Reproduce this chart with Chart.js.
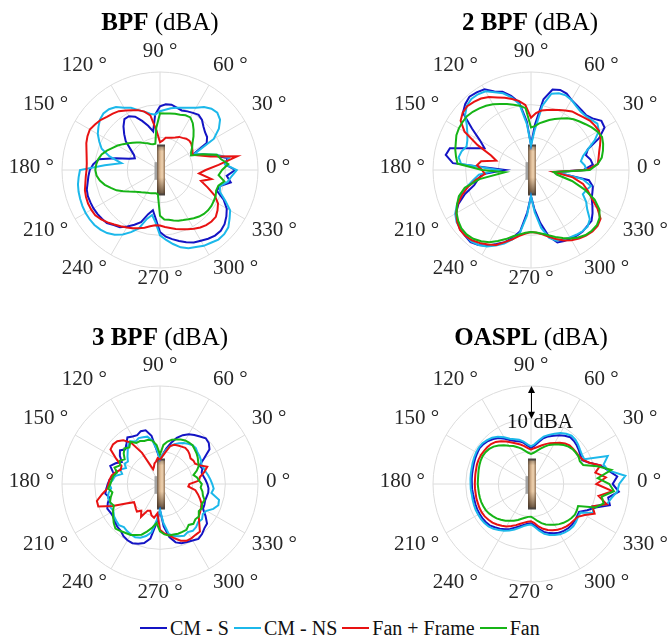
<!DOCTYPE html>
<html>
<head>
<meta charset="utf-8">
<script src="https://cdn.jsdelivr.net/npm/chart.js@4.4.1/dist/chart.umd.min.js"></script>
<style>
  html, body { margin: 0; padding: 0; background: #fff; }
  body { position: relative; width: 667px; height: 638px; overflow: hidden; font-family: "Liberation Serif", "Times New Roman", serif; }
  canvas { position: absolute; }
  .title { position: absolute; width: 334px; text-align: center; font-size: 25px; line-height: 25px; color: #000; white-space: nowrap; }
  .title b { font-weight: bold; }
  .legend { position: absolute; left: 140px; top: 618px; display: flex; align-items: center; font-size: 20px; line-height: 20px; color: #111; white-space: nowrap; }
  .legend .item { display: flex; align-items: center; margin-right: 5px; }
  .legend .swatch { display: inline-block; width: 27px; height: 0; border-top: 2px solid; margin-right: 3px; }
</style>
</head>
<body>
<script>
// ---- angular grid (degrees, counter-clockwise from +x) ----
const STEP = 5;
const ANGLES = [0,5,10,15,20,25,30,35,40,45,50,55,60,65,70,75,80,85,90,95,100,105,110,115,
  120,125,130,135,140,145,150,155,160,165,170,175,180,185,190,195,200,205,210,215,220,225,230,235,
  240,245,250,255,260,265,270,275,280,285,290,295,300,305,310,315,320,325,330,335,340,345,350,355];
const THETA_TICKS = [0,30,60,90,120,150,180,210,240,270,300,330];

// radial axis in dBA (relative), 10 dBA per ring
const RADIAL_MIN = 0;
const RADIAL_MAX = 30;
const RADIAL_STEP = 10;

const SERIES_NAMES = ['CM - S', 'CM - NS', 'Fan + Frame', 'Fan'];
const SERIES_COLORS = ['#1414c4', '#1cb8ea', '#e81212', '#16b416'];

// ---- BPF ----
const bpfCmS = [
  23, 20, 21, 17, 14, 11, 16.5, 17.6, 18, 18.8, 20, 20.6,
  20.2, 19.8, 19.4, 19.8, 20.3, 20.2, 19.5, 17, 12, 14, 16, 18,
  19, 19, 17.4, 15.5, 13.7, 11, 9.2, 8.5, 10, 14, 19, 20.5,
  21.5, 22, 22.5, 23.2, 23.5, 23.5, 23.5, 23.4, 23.2, 23, 22, 21.4,
  20, 18.5, 17, 14, 12.5, 15, 19, 20.5, 21.5, 22.5, 23.5, 24.5,
  25, 25.7, 26.2, 26.3, 25.8, 24.8, 23.6, 21.5, 18.5, 19, 22, 20.5];
const bpfCmNs = [
  23.5, 20, 21.5, 18, 14, 11.5, 19, 22, 24, 24.8, 24.5, 23.5,
  22, 21, 20.3, 19.7, 19.2, 18.5, 18, 17, 17.5, 18.5, 19.5, 21,
  22, 23.5, 24.3, 24.5, 24, 23, 22, 20.5, 19, 16, 12, 17,
  24.5, 25, 25.5, 25.8, 26, 26.2, 26.3, 26.3, 26.2, 25.8, 25.2, 24.2,
  22.8, 21, 19, 15.5, 14, 16, 20, 21.5, 23, 24.5, 25.5, 26,
  26.8, 27.2, 27.8, 27.8, 27.3, 26, 24.8, 22, 19.5, 19, 21, 22];
const bpfFanFrame = [
  14, 18, 24, 16, 13, 11, 11.5, 12, 12.5, 12.7, 12.5, 12,
  11.7, 11, 10.5, 10.2, 10, 9, 8.5, 12, 17, 18.5, 19.5, 20.2,
  21, 22, 22.5, 23, 23.8, 24.3, 24.8, 24.5, 24, 23.3, 22.8, 22.5,
  22.5, 22.8, 23.2, 23.8, 24.1, 24.3, 24.3, 24.2, 23.5, 22.7, 21.8, 21,
  20.3, 19.7, 19, 18.3, 17.5, 17, 17, 17.5, 18, 18.7, 19.3, 20,
  20.8, 21.5, 22, 22.3, 22.3, 21.5, 20.5, 18.5, 15.5, 13, 16, 12];
const bpfFan = [
  19, 21, 19, 18, 14, 10.5, 11, 12, 13, 14.5, 16, 17.5,
  18.6, 18.5, 18, 17.8, 17.6, 17.4, 17.4, 13, 8.2, 8.2, 8.5, 9,
  9.5, 10.3, 11, 11.8, 12.7, 13.8, 15, 16, 17.3, 18.5, 19.2, 19.6,
  19.8, 19.5, 18.7, 17.5, 16, 14.7, 13, 11.5, 10.3, 9.5, 8.9, 8.4,
  8, 7.8, 7.6, 7.4, 7.2, 7.5, 14, 15.2, 15.5, 16, 16.5, 16.9,
  17.4, 18, 18.6, 19, 19.2, 19.2, 19, 18.8, 18.3, 18.5, 20, 18];

// ---- 2 BPF ----
const bpf2CmS = [
  16, 19, 18.5, 17.4, 18.5, 23, 26, 26.3, 24.6, 23.8, 24, 24.3,
  24.8, 25.8, 26.1, 25.5, 22, 14, 7.7, 15, 21, 23.5, 25.5, 26.5,
  28.5, 29, 29.3, 28.5, 27.2, 22, 18, 15.7, 19.5, 25.7, 26.5, 24,
  8, 15, 16.5, 18, 21.5, 24.5, 26.5, 27.5, 28.3, 28.5, 28.8, 28,
  26.8, 25, 23.5, 21.5, 19, 13, 8, 12, 16.5, 21, 23.6, 24,
  24.2, 24.5, 24.6, 24.3, 24.2, 23, 21.7, 20.5, 20, 19.6, 18, 7.5];
const bpf2CmNs = [
  17, 16.5, 15.5, 16.5, 18.5, 21.5, 24, 24.8, 24, 23.5, 23.5, 24,
  24.8, 25.2, 25, 24.2, 20, 12, 7.5, 14, 20.5, 23, 25, 26.3,
  27.8, 28.3, 28.4, 27.8, 26.3, 24, 22.5, 21.5, 21, 22, 22.5, 21.5,
  10, 16, 18, 20.5, 23, 25, 26.8, 27.8, 28.2, 28.3, 28.5, 28,
  27, 25.5, 24, 22, 19.5, 14, 8, 13, 18, 21.5, 23, 23.5,
  23.8, 24.2, 24.5, 24.5, 23.5, 21, 19.5, 17.5, 18, 19, 16, 8];
const bpf2FanFrame = [
  17, 20.5, 21, 21.6, 22.5, 23.5, 24, 23.8, 23.5, 22.8, 22.2, 21.9,
  21, 20.3, 19.6, 19, 18.5, 17.5, 16, 20, 21.5, 22.5, 23.5, 24.5,
  25.8, 26.7, 27.2, 27.6, 27.3, 26.3, 23.5, 18, 13, 11, 15.5, 16.6,
  15, 14.2, 17, 20, 22.5, 24.8, 26.4, 27.6, 28.4, 28.5, 28.1, 27.3,
  26.3, 25.3, 23.5, 22, 20.5, 19.5, 19, 19.3, 20, 21.2, 22.5, 23.8,
  24.8, 25.6, 26.2, 26.6, 26.6, 26, 23.5, 20.5, 18.5, 16.5, 13, 7];
const bpf2Fan = [
  18, 20.5, 22, 22.8, 23.5, 24, 23.5, 22.7, 21.8, 21, 20.3, 19.3,
  18.2, 17.2, 16.3, 15.3, 14.5, 13.5, 13, 19, 20, 20.7, 21.5, 22.3,
  23.2, 24, 24.6, 25.2, 25.6, 25.6, 25.5, 25.2, 24.5, 24, 23.3, 22.6,
  15, 8, 16, 21, 23.5, 25, 26.3, 27.2, 27.8, 27.9, 27.5, 26.6,
  25.5, 24, 22.5, 21, 20, 19.3, 19, 19.2, 19.8, 20.7, 21.8, 23,
  24.2, 25.2, 26, 26.3, 26.3, 25.6, 24.2, 21.5, 17.5, 13, 8, 7];

// ---- 3 BPF ----
const bpf3CmS = [
  14.5, 14, 13.5, 13.2, 13.8, 13.3, 15.5, 18.5, 19.5, 19.8, 19, 18.3,
  17.6, 16.5, 15, 13, 11, 9, 7.5, 10, 15, 17, 17.2, 16.5,
  16.8, 17.4, 16, 15, 16, 15, 13.5, 15, 16.2, 15, 14, 15.5,
  16, 16.5, 17, 16, 17, 17.8, 17.5, 17.5, 18, 18.5, 18.7, 19.5,
  19.9, 20, 19.5, 18.7, 17, 12, 8, 13, 16.5, 18.5, 19.3, 19.6,
  20, 20.5, 20, 19.2, 18.8, 17, 15.2, 15, 14.7, 14.8, 15, 14.9];
const bpf3CmNs = [
  16, 15.5, 15, 14.5, 14.2, 14, 14.5, 14.8, 15, 15.5, 15.5, 15,
  14.5, 13.8, 13, 12, 10.5, 9, 7.5, 10.5, 13.5, 15, 15.2, 15.5,
  15, 16, 15.2, 14, 13, 12, 12.5, 11.5, 13, 12, 14, 14.5,
  15.5, 15, 16, 16.5, 16.2, 16.8, 16.5, 17.2, 17.5, 17.8, 17.2, 17.6,
  17.8, 18, 17.5, 16.5, 15, 11, 8, 12, 15.5, 16.5, 17, 17.5,
  17, 17.5, 17.2, 16.5, 16.8, 16, 16.4, 18, 19, 18.7, 16, 16.5];
const bpf3FanFrame = [
  9, 12, 12.4, 14, 15.4, 13.5, 12.4, 12.5, 12.2, 12.8, 13.3, 13.5,
  13.2, 13, 12.8, 12, 10, 8.5, 7.5, 8, 7, 6.5, 5.5, 5,
  11, 15.5, 17.5, 18.5, 18.8, 18.5, 15.5, 13, 12.8, 14, 15, 15.5,
  15.8, 16.2, 18, 20, 20.1, 16, 12, 9.7, 10, 10.5, 11, 10,
  11.6, 9, 8.7, 10, 10.5, 9, 14, 15.2, 16, 17.2, 18.5, 19.2,
  19.2, 19, 19, 17, 15.5, 15, 14.5, 14, 13, 12, 11, 8.7];
const bpf3Fan = [
  12.8, 12, 11.5, 10.6, 12, 13.1, 13.5, 14.1, 14.6, 15, 15.5, 15.5,
  15.4, 15, 14.5, 14, 13.2, 12, 9, 12, 13.5, 14, 14, 14.5,
  14.5, 15.8, 14.6, 15.4, 14.5, 13.2, 14.2, 13.5, 14.8, 13.6, 14.5, 14.8,
  15.2, 15.9, 14.8, 15.6, 16.3, 15.6, 16.6, 17.5, 18.5, 19.3, 18.8, 18.3,
  18, 17.2, 16.5, 15, 13.5, 12, 14.5, 15.5, 16, 16, 16.2, 16.2,
  16.2, 15.3, 15.9, 15.3, 15.5, 14.5, 14.8, 14.2, 14.5, 13.6, 13.2, 12.5];

// ---- OASPL ----
const oasplCmS = [
  25, 26.5, 24, 22, 19, 17.3, 17.5, 17.9, 18.3, 18.6, 18.7, 18,
  17.2, 16.3, 15.5, 14.5, 13, 11.8, 11, 11.8, 12.8, 13.5, 14, 14.8,
  16, 17.2, 18, 18.6, 19, 19.2, 19, 18.8, 18.6, 18.4, 18.3, 18.2,
  18.1, 18.1, 18, 18, 18.1, 18.2, 18.2, 18.2, 18.1, 17.9, 17.3, 16.7,
  16, 15.2, 14.2, 13.4, 12.7, 12.2, 12, 12.8, 14, 15.2, 16, 16.6,
  17.2, 17.5, 17.7, 17.7, 17.5, 17.2, 17, 19, 21, 25, 24, 27];
const oasplCmNs = [
  27, 29, 24, 23, 25, 18, 18, 18.3, 18.8, 19.2, 19.3, 18.8,
  18, 17, 16, 15, 13.5, 12.2, 11.5, 12.2, 13.2, 14, 14.6, 15.3,
  16.5, 17.7, 18.5, 19, 19.4, 19.5, 19.4, 19.2, 19, 18.8, 18.7, 18.6,
  18.5, 18.5, 18.4, 18.5, 18.6, 18.7, 18.7, 18.7, 18.6, 18.4, 17.9, 17.2,
  16.5, 15.7, 14.8, 13.9, 13.1, 12.6, 12.4, 13.2, 14.5, 15.8, 16.6, 17.2,
  17.8, 18.1, 18.3, 18.3, 18, 17.6, 17.5, 21, 20, 24, 25, 26.5];
const oasplFanFrame = [
  20, 23, 20, 22, 19, 17.5, 17, 16.9, 16.8, 16.7, 16.2, 15.4,
  14.5, 13.8, 13, 12.2, 11.5, 11, 10.5, 11, 11.8, 12.5, 13.2, 14,
  15, 16, 16.8, 17.3, 17.5, 17.6, 17.7, 17.7, 17.6, 17.4, 17.3, 17.2,
  17.2, 17.2, 17.2, 17.3, 17.3, 17.4, 17.4, 17.3, 17, 16.7, 16.2, 15.6,
  15, 14.2, 13.4, 12.6, 12, 11.6, 11.4, 12, 13.2, 14.2, 15, 15.6,
  16.2, 16.6, 16.9, 17.1, 17.2, 17.5, 19, 21.5, 20, 24, 21, 25];
const oasplFan = [
  24, 20.5, 25, 21, 17, 16.5, 16.8, 16.7, 16.6, 16.2, 15.6, 14.8,
  14, 13.2, 12.2, 11.2, 10.3, 9.6, 9.2, 9.6, 10.3, 11.2, 12, 12.8,
  13.5, 14.5, 15.4, 16.2, 16.7, 17, 17.1, 17, 16.8, 16.6, 16.4, 16.3,
  16.3, 16.2, 16.2, 16.2, 16.2, 16.1, 16, 15.7, 15.3, 14.9, 14.3, 13.7,
  13, 12.4, 11.7, 11, 10.5, 10.1, 10, 10.6, 11.5, 12.4, 13.2, 13.8,
  14.4, 15, 15.5, 15.9, 16.2, 16.4, 16.2, 15.9, 21, 23, 22, 25.5];

// ring-spacing marker shown on the OASPL plot
const OASPL_NOTE = { from: 30, to: 20, textAt: 17.1, text: '10 dBA' };

const PANELS = [
  { bold: 'BPF',   rest: ' (dBA)', series: [bpfCmS, bpfCmNs, bpfFanFrame, bpfFan] },
  { bold: '2 BPF', rest: ' (dBA)', series: [bpf2CmS, bpf2CmNs, bpf2FanFrame, bpf2Fan] },
  { bold: '3 BPF', rest: ' (dBA)', series: [bpf3CmS, bpf3CmNs, bpf3FanFrame, bpf3Fan] },
  { bold: 'OASPL', rest: ' (dBA)', series: [oasplCmS, oasplCmNs, oasplFanFrame, oasplFan], note: OASPL_NOTE }
];

// page placement of each polar plot: canvas box, pole position inside it, title
const LAYOUT = [
  { left: 0,   top: 0,   w: 333, h: 300, cx: 160, cy: 170, titleX: 160, titleTop: 9 },
  { left: 333, top: 0,   w: 334, h: 300, cx: 198, cy: 170, titleX: 530, titleTop: 9 },
  { left: 0,   top: 300, w: 333, h: 316, cx: 160, cy: 184, titleX: 160, titleTop: 324 },
  { left: 333, top: 300, w: 334, h: 316, cx: 198, cy: 184, titleX: 531, titleTop: 324 }
];
const OUTER_R = 98;

const N = ANGLES.length;
// the radial scale runs clockwise from its start angle, so reverse the angular order
const toChartOrder = arr => arr.map((_, i) => arr[(N - i) % N]);
const chartLabels = toChartOrder(ANGLES);

const LABEL_FONT = '21px "Liberation Serif", "Times New Roman", serif';

function drawFan(ctx, s) {
  const cx = s.xCenter, cy = s.yCenter, R = s.drawingArea;
  const h = R * 0.25;
  ctx.save();
  // hub
  ctx.fillStyle = '#a4a4a4';
  ctx.fillRect(cx - 5.5, cy - R * 0.08, 3, R * 0.18);
  // casing
  const g = ctx.createLinearGradient(cx - 3, 0, cx + 5, 0);
  g.addColorStop(0, '#6e5a48');
  g.addColorStop(0.35, '#d6b28c');
  g.addColorStop(0.65, '#f0d4b2');
  g.addColorStop(1, '#9a7a5c');
  ctx.fillStyle = g;
  ctx.fillRect(cx - 3, cy - h, 8, 2 * h);
  const v = ctx.createLinearGradient(0, cy - h, 0, cy + h);
  v.addColorStop(0, 'rgba(60,50,40,0.45)');
  v.addColorStop(0.12, 'rgba(60,50,40,0)');
  v.addColorStop(0.65, 'rgba(60,40,20,0)');
  v.addColorStop(1, 'rgba(45,30,18,0.7)');
  ctx.fillStyle = v;
  ctx.fillRect(cx - 3, cy - h, 8, 2 * h);
  ctx.fillStyle = '#4a4440';
  ctx.fillRect(cx - 3, cy - h - 1, 8, 2);
  ctx.fillRect(cx - 3, cy + h - 1, 8, 2);
  ctx.restore();
}

function drawThetaLabels(ctx, s) {
  const R = s.drawingArea;
  ctx.save();
  ctx.font = LABEL_FONT;
  ctx.fillStyle = '#262626';
  ctx.textBaseline = 'middle';
  THETA_TICKS.forEach(a => {
    const k = ANGLES.indexOf(a);
    const idx = (N - k) % N;
    const p = s.getPointPosition(idx, R + 8);
    const c = Math.cos(a * Math.PI / 180);
    const sn = Math.sin(a * Math.PI / 180);
    ctx.textAlign = c > 0.01 ? 'left' : (c < -0.01 ? 'right' : 'center');
    const lift = (Math.abs(c) < 0.01 && sn < 0) ? 5 : 10;
    const dy = (sn > 0.01 ? -lift : (sn < -0.01 ? lift : 0)) - 3;
    ctx.fillText(a + ' °', p.x, p.y + dy);
  });
  ctx.restore();
}

function drawNote(ctx, s, note) {
  const cx = s.xCenter, cy = s.yCenter;
  const y1 = cy - s.getDistanceFromCenterForValue(note.from);
  const y2 = cy - s.getDistanceFromCenterForValue(note.to);
  ctx.save();
  ctx.strokeStyle = '#000';
  ctx.fillStyle = '#000';
  ctx.lineWidth = 1;
  ctx.beginPath();
  ctx.moveTo(cx + 0.5, y1 + 4);
  ctx.lineTo(cx + 0.5, y2 - 4);
  ctx.stroke();
  const head = (y, dir) => {
    ctx.beginPath();
    ctx.moveTo(cx + 0.5, y);
    ctx.lineTo(cx + 0.5 - 3.5, y + dir * 7);
    ctx.lineTo(cx + 0.5 + 3.5, y + dir * 7);
    ctx.closePath();
    ctx.fill();
  };
  head(y1, 1);
  head(y2, -1);
  ctx.font = LABEL_FONT;
  ctx.fillStyle = '#111';
  ctx.textAlign = 'center';
  ctx.textBaseline = 'alphabetic';
  ctx.fillText(note.text, cx + 9, cy - s.getDistanceFromCenterForValue(note.textAt));
  ctx.restore();
}

const polarDecor = {
  id: 'polarDecor',
  beforeDatasetsDraw(chart) {
    drawFan(chart.ctx, chart.scales.r);
  },
  afterDraw(chart, args, opts) {
    const s = chart.scales.r;
    drawThetaLabels(chart.ctx, s);
    if (opts && opts.note) drawNote(chart.ctx, s, opts.note);
  }
};

PANELS.forEach((panel, p) => {
  const L = LAYOUT[p];
  const canvas = document.createElement('canvas');
  canvas.width = L.w;
  canvas.height = L.h;
  canvas.style.left = L.left + 'px';
  canvas.style.top = L.top + 'px';
  canvas.style.width = L.w + 'px';
  canvas.style.height = L.h + 'px';
  document.body.appendChild(canvas);

  const title = document.createElement('div');
  title.className = 'title';
  title.style.left = (L.titleX - 167) + 'px';
  title.style.top = L.titleTop + 'px';
  const b = document.createElement('b');
  b.textContent = panel.bold;
  title.appendChild(b);
  title.appendChild(document.createTextNode(panel.rest));
  document.body.appendChild(title);

  new Chart(canvas, {
    type: 'radar',
    data: {
      labels: chartLabels,
      datasets: panel.series.map((vals, k) => ({
        label: SERIES_NAMES[k],
        data: toChartOrder(vals),
        borderColor: SERIES_COLORS[k],
        backgroundColor: SERIES_COLORS[k],
        borderWidth: 2,
        pointRadius: 0,
        pointHoverRadius: 0,
        pointHitRadius: 0,
        fill: false,
        tension: 0,
        order: SERIES_NAMES.length - 1 - k
      }))
    },
    options: {
      responsive: false,
      animation: false,
      devicePixelRatio: 1,
      events: [],
      layout: {
        padding: {
          left: L.cx - OUTER_R,
          right: L.w - L.cx - OUTER_R,
          top: L.cy - OUTER_R,
          bottom: L.h - L.cy - OUTER_R
        }
      },
      plugins: {
        legend: { display: false },
        tooltip: { enabled: false },
        title: { display: false },
        polarDecor: { note: panel.note || null }
      },
      scales: {
        r: {
          min: RADIAL_MIN,
          max: RADIAL_MAX,
          startAngle: 90,
          ticks: { display: false, stepSize: RADIAL_STEP },
          pointLabels: { display: false },
          grid: { circular: true, color: '#dcdcdc', lineWidth: 1 },
          angleLines: {
            display: true,
            color: '#dcdcdc',
            lineWidth: ctx => (ctx.index % (30 / STEP) === 0 ? 1 : 0)
          }
        }
      }
    },
    plugins: [polarDecor]
  });
});

// shared legend
const legend = document.createElement('div');
legend.className = 'legend';
SERIES_NAMES.forEach((name, k) => {
  const item = document.createElement('span');
  item.className = 'item';
  const sw = document.createElement('span');
  sw.className = 'swatch';
  sw.style.borderTopColor = SERIES_COLORS[k];
  item.appendChild(sw);
  item.appendChild(document.createTextNode(name));
  legend.appendChild(item);
});
document.body.appendChild(legend);
</script>
</body>
</html>
